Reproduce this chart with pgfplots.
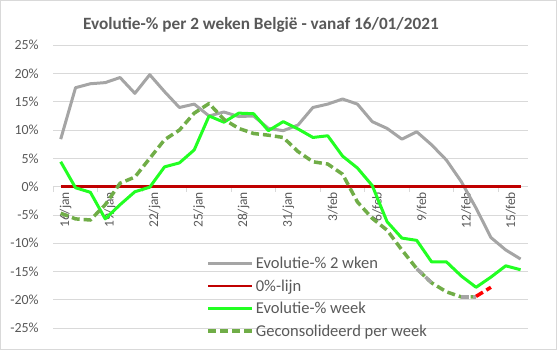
\documentclass[border=0pt]{standalone}
\usepackage{fontspec}
\setmainfont{Carlito}
\usepackage{pgfplots}
\usepackage{pgfplotstable}
\pgfplotsset{compat=1.18}
\definecolor{txt}{HTML}{595959}
\definecolor{gridc}{HTML}{D9D9D9}
\definecolor{grayl}{HTML}{A5A5A5}
\definecolor{darkred}{HTML}{C00000}
\definecolor{limeg}{HTML}{22FF22}
\definecolor{olive}{HTML}{70AD47}
\definecolor{brightred}{HTML}{FF0000}
\pgfplotstableread{
i gray green cons
0 8.4 4.4 -4.7
1 17.5 -0.2 -5.7
2 18.2 -1.0 -5.9
3 18.4 -5.7 -3.2
4 19.3 -3.2 0.6
5 16.5 -0.9 1.7
6 19.8 -0.1 5.0
7 16.8 3.5 8.3
8 14.0 4.2 10.0
9 14.6 6.5 13.0
10 12.5 12.5 14.7
11 13.2 11.4 11.9
12 12.4 13.0 10.3
13 12.5 12.9 9.4
14 10.3 9.9 9.1
15 9.9 11.5 8.7
16 10.9 10.2 6.2
17 14.0 8.7 4.4
18 14.6 9.0 4.0
19 15.5 5.4 2.2
20 14.6 3.3 -2.7
21 11.5 0.2 -5.6
22 10.3 -6.2 -7.7
23 8.4 -9.1 -11.2
24 9.7 -9.5 -14.5
25 7.4 -13.3 -17.0
26 4.7 -13.3 -18.6
27 0.9 -15.8 -19.5
28 -3.8 -17.8 -19.5
29 -9.0 -16.0 nan
30 -11.2 -14.0 nan
31 -12.8 -14.7 nan
}\datatab
\begin{document}
\begin{tikzpicture}
\path[use as bounding box] (-53.3bp,-22bp) rectangle (503.7bp,328bp);
\draw[gridc, line width=0.75bp] (-53.0bp,-21.7bp) rectangle (503.4bp,327.7bp);
\begin{axis}[
  at={(0,0)}, anchor=south west,
  scale only axis, width=474.7bp, height=282.7bp,
  xmin=-0.5, xmax=31.5, ymin=-25, ymax=25,
  axis x line=middle, axis y line=left,
  x axis line style={draw=gridc, line width=0.75bp, -},
  y axis line style={draw=none},
  xtick={0,3,...,30},
  xticklabels={16/jan,19/jan,22/jan,25/jan,28/jan,31/jan,3/feb,6/feb,9/feb,12/feb,15/feb},
  major x tick style={draw=none},
  minor xtick={-0.5,2.5,...,29.5},
  minor x tick style={draw=gridc, line width=0.75bp},
  minor tick length=5bp,
  xtick align=outside,
  x tick label style={rotate=90, anchor=east, font=\fontsize{13.5}{15}\selectfont, text=txt, inner sep=1bp, yshift=-5bp},
  ytick={-25,-20,...,25},
  yticklabels={-25\%,-20\%,-15\%,-10\%,-5\%,0\%,5\%,10\%,15\%,20\%,25\%},
  y tick label style={font=\fontsize{14}{15}\selectfont, text=txt, xshift=-9bp},
  ytick style={draw=none},
  ymajorgrids, grid style={draw=gridc, line width=0.75bp},
  clip=false,
  legend style={at={(0.322,0.258)}, anchor=north west, draw=none, fill=none,
    font=\fontsize{16.6}{18}\selectfont, text=txt, row sep=5.5bp,
    inner sep=0pt, nodes={inner sep=2bp}},
  legend cell align=left,
  legend image code/.code={\draw[#1] (0bp,0bp) -- (44bp,0bp);},
]
\addplot[grayl, line width=3bp, line join=round] table[x=i, y=gray] {\datatab};
\addlegendentry{Evolutie-\% 2 wken}
\addplot[darkred, line width=2.5bp] coordinates {(0,0) (31,0)};
\addlegendentry{0\%-lijn}
\addplot[limeg, line width=3bp, line join=round] table[x=i, y=green] {\datatab};
\addlegendentry{Evolutie-\% week}
\addplot[olive, line width=3.5bp, dash pattern=on 8bp off 4bp, line join=round, unbounded coords=discard] table[x=i, y=cons] {\datatab};
\addlegendentry{Geconsolideerd per week}
\addplot[grayl, line width=3.5bp, dash pattern=on 8bp off 4bp, forget plot] coordinates {(24,-14.5) (25,-17.0)};
\addplot[grayl, line width=3.5bp, dash pattern=on 8bp off 4bp, forget plot] coordinates {(27,-19.5) (28,-19.5)};
\addplot[brightred, line width=3.5bp, dash pattern=on 8bp off 4bp, forget plot] coordinates {(28,-19.4) (29,-17.8)};
\end{axis}
\node[font=\fontsize{17.3}{19}\selectfont\bfseries, text=txt] at (207.7bp,303bp) {Evolutie-\% per 2 weken België - vanaf 16/01/2021};
\end{tikzpicture}
\end{document}
